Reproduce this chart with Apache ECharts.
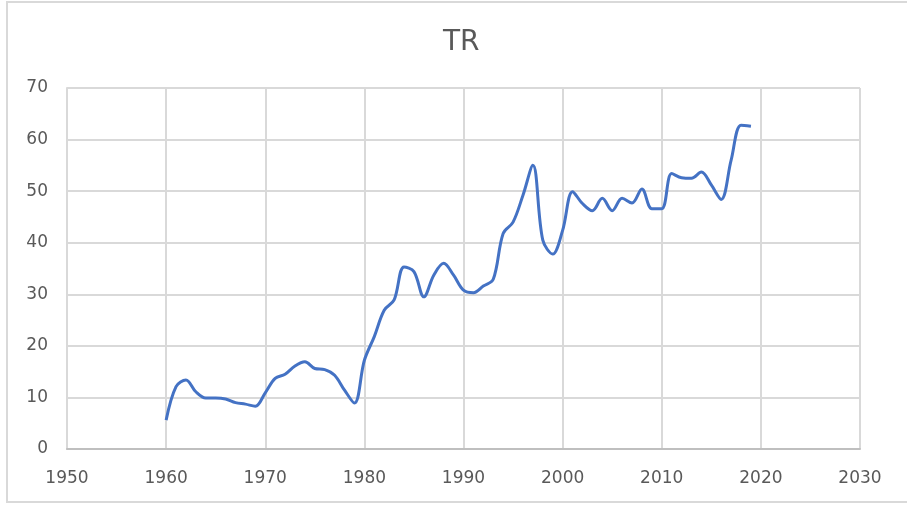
<!DOCTYPE html>
<html>
<head>
<meta charset="utf-8">
<script src="https://cdn.jsdelivr.net/npm/echarts@6/dist/echarts.min.js"></script>
<style>
  html, body { margin: 0; padding: 0; background: #fff; }
  #chart { width: 907px; height: 506px; }
</style>
</head>
<body>
<div id="chart"></div>
<script>
// TR - serie anual 1960-2019
const years = [
  1960, 1961, 1962, 1963, 1964, 1965, 1966, 1967, 1968, 1969,
  1970, 1971, 1972, 1973, 1974, 1975, 1976, 1977, 1978, 1979,
  1980, 1981, 1982, 1983, 1984, 1985, 1986, 1987, 1988, 1989,
  1990, 1991, 1992, 1993, 1994, 1995, 1996, 1997, 1998, 1999,
  2000, 2001, 2002, 2003, 2004, 2005, 2006, 2007, 2008, 2009,
  2010, 2011, 2012, 2013, 2014, 2015, 2016, 2017, 2018, 2019
];
const trValues = [
  5.6, 12.1, 13.4, 11.1, 9.9, 9.9, 9.7, 9.0, 8.7, 8.3,
  10.9, 13.7, 14.5, 16.1, 16.9, 15.6, 15.4, 14.3, 11.4, 8.9,
  17.2, 21.8, 26.9, 28.9, 35.3, 34.4, 29.5, 33.7, 36.0, 33.7,
  30.8, 30.3, 31.6, 32.9, 41.8, 44.0, 49.2, 55.0, 40.5, 37.8,
  42.4, 49.9, 47.6, 46.2, 48.6, 46.2, 48.6, 47.7, 50.4, 46.6,
  46.6, 53.4, 52.6, 52.5, 53.7, 51.2, 48.4, 56.0, 62.8, 62.6
];
const xTicks = [1950, 1960, 1970, 1980, 1990, 2000, 2010, 2020, 2030];
const yTicks = [0, 10, 20, 30, 40, 50, 60, 70];

const chart = echarts.init(document.getElementById("chart"));
const labelFont = { color: "#595959", fontSize: 17, fontFamily: "DejaVu Sans" };

chart.setOption({
  backgroundColor: "#fff",
  animation: false,
  title: {
    text: "TR",
    left: 438,
    top: 24,
    textStyle: { color: "#595959", fontSize: 28, fontWeight: "normal", fontFamily: "DejaVu Sans" }
  },
  graphic: [{
    type: "rect",
    shape: { x: 7, y: 2, width: 910, height: 500 },
    style: { fill: "none", stroke: "#d9d9d9", lineWidth: 2 },
    silent: true
  }],
  grid: { left: 67, right: 47, top: 88, bottom: 57 },
  xAxis: {
    type: "value",
    min: xTicks[0],
    max: xTicks[xTicks.length - 1],
    interval: 10,
    axisLine: { show: true, lineStyle: { color: "#bfbfbf", width: 2 } },
    axisTick: { show: false },
    splitLine: { show: true, lineStyle: { color: "#d9d9d9", width: 2 } },
    axisLabel: { ...labelFont, margin: 21, formatter: v => String(v) }
  },
  yAxis: {
    type: "value",
    min: yTicks[0],
    max: yTicks[yTicks.length - 1],
    interval: 10,
    axisLine: { show: true, lineStyle: { color: "#d9d9d9", width: 2 } },
    axisTick: { show: false },
    splitLine: { show: true, lineStyle: { color: "#d9d9d9", width: 2 } },
    axisLabel: { ...labelFont, margin: 19 }
  },
  series: [{
    name: "TR",
    type: "line",
    data: years.map((y, i) => [y, trValues[i]]),
    smooth: 0.35,
    showSymbol: false,
    lineStyle: { color: "#4472c4", width: 3 },
    itemStyle: { color: "#4472c4" }
  }]
});
</script>
</body>
</html>
